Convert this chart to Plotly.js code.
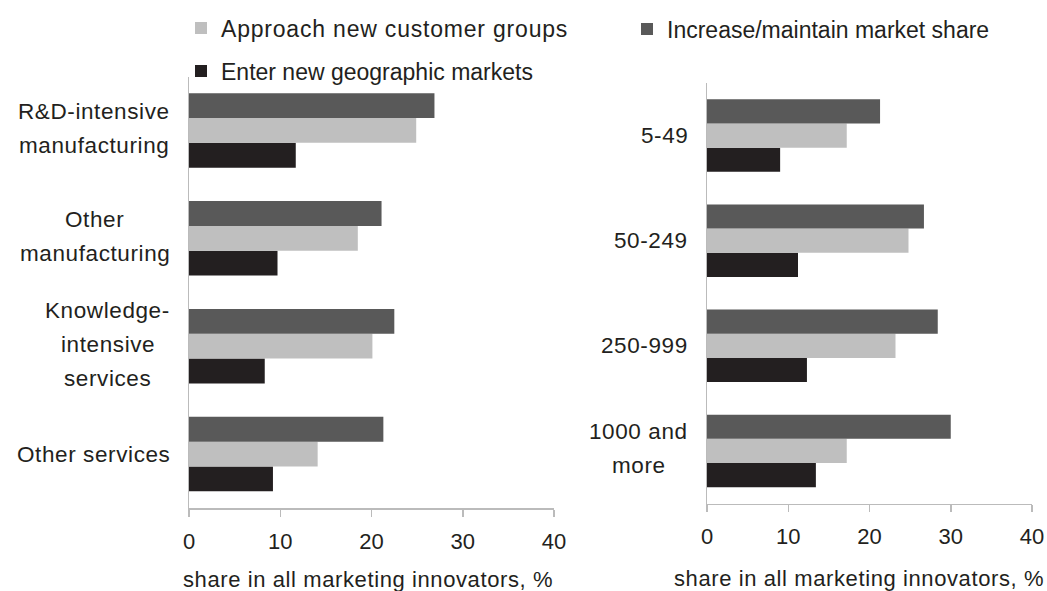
<!DOCTYPE html>
<html>
<head>
<meta charset="utf-8">
<script src="https://cdn.plot.ly/plotly-3.0.1.min.js"></script>
<style>
html,body{margin:0;padding:0;background:#fff;}
#chart{width:1047px;height:591px;}
text.annotation-text { letter-spacing: 0.6px; }
text.legendtext { letter-spacing: 0.8px; }
</style>
</head>
<body>
<div id="chart"></div>
<script>
// ---- data ----
const sectors = ['R&D-intensive<br>manufacturing', 'Other<br>manufacturing', 'Knowledge-<br>intensive<br>services', 'Other services'];
const sizes = ['5-49', '50-249', '250-999', '1000 and<br>more'];

const seriesNames = ['Enter new geographic markets', 'Approach new customer groups', 'Increase/maintain market share'];

const enterSector = [11.7, 9.7, 8.3, 9.2];
const approachSector = [24.9, 18.5, 20.1, 14.1];
const increaseSector = [26.9, 21.1, 22.5, 21.3];

const enterSize = [9.0, 11.2, 12.3, 13.4];
const approachSize = [17.2, 24.8, 23.2, 17.2];
const increaseSize = [21.3, 26.7, 28.4, 30.0];

const xTickVals = [0, 10, 20, 30, 40];
const xTitle = 'share in all marketing innovators, %';

// ---- style ----
const W = 1047, H = 591;
const FONT = '"Liberation Sans", Arial, sans-serif';
const TXT = '#231f20';
const LS = 0.6; // annotation letter spacing px (matches CSS)
const LABEL_SIZE = 22.5;
const colors = ['#231f20', '#bfbfbf', '#595959'];
const legendIds = ['legend2', 'legend', 'legend3'];
const px = v => v / W;
const py = v => (H - v) / H;

const leftVals = [enterSector, approachSector, increaseSector];
const rightVals = [enterSize, approachSize, increaseSize];

const traces = [];
seriesNames.forEach((name, i) => {
  traces.push({
    type: 'bar', orientation: 'h', name: name,
    y: sectors, x: leftVals[i], xaxis: 'x', yaxis: 'y',
    marker: {color: colors[i], line: {width: 0}},
    legend: legendIds[i], showlegend: true, hoverinfo: 'skip'
  });
  traces.push({
    type: 'bar', orientation: 'h', name: name,
    y: sizes, x: rightVals[i], xaxis: 'x2', yaxis: 'y2',
    marker: {color: colors[i], line: {width: 0}},
    showlegend: false, hoverinfo: 'skip'
  });
});

const axisLine = '#bbbbbb';
const xaxisBase = {
  range: [0, 40], tickvals: xTickVals, ticks: 'outside', ticklen: 7, tickwidth: 1.5,
  tickcolor: axisLine, showline: true, linecolor: axisLine, linewidth: 1.5,
  showgrid: false, zeroline: false, fixedrange: true, ticklabelstandoff: 6,
  tickfont: {family: FONT, size: 22, color: TXT}
};
const yaxisBase = {
  type: 'category', showline: true, linecolor: axisLine, linewidth: 1.5,
  ticks: '', showticklabels: false, showgrid: false, zeroline: false, fixedrange: true
};

// text width measurement for centring multi-line labels
const cv = document.createElement('canvas').getContext('2d');
cv.font = LABEL_SIZE + 'px "Liberation Sans", Arial, sans-serif';
function textW(s) { return cv.measureText(s).width + s.length * LS; }

const annotations = [];
function catLabels(cats, yref, xRight) {
  cats.forEach(c => {
    const lines = c.split('<br>');
    const n = lines.length;
    const maxW = Math.max(...lines.map(textW));
    const cx = xRight - maxW / 2;
    lines.forEach((ln, i) => {
      annotations.push({
        xref: 'paper', yref: yref, x: px(cx), y: c, xanchor: 'center', yanchor: 'middle',
        text: ln, showarrow: false, align: 'center',
        yshift: ((n - 1) / 2 - i) * 34 + (n > 1 ? 2 : 0),
        font: {family: FONT, size: LABEL_SIZE, color: TXT}
      });
    });
  });
}
catLabels(sectors, 'y', 170);
catLabels(sizes, 'y2', 688);

annotations.push({xref: 'paper', yref: 'paper', x: px(368), y: py(579), xanchor: 'center', yanchor: 'middle',
  text: xTitle, showarrow: false, font: {family: FONT, size: 22, color: TXT}});
annotations.push({xref: 'paper', yref: 'paper', x: px(1046), y: py(578), xanchor: 'right', yanchor: 'middle',
  text: xTitle, showarrow: false, font: {family: FONT, size: 22, color: TXT}});

const legFont = {family: FONT, size: 23, color: TXT};
const layout = {
  width: W, height: H,
  margin: {l: 0, r: 0, t: 0, b: 0},
  paper_bgcolor: '#ffffff', plot_bgcolor: '#ffffff',
  font: {family: FONT, size: 22, color: TXT},
  barmode: 'group', bargap: 0.31, bargroupgap: 0,
  xaxis: Object.assign({}, xaxisBase, {domain: [px(189), px(554)], anchor: 'y'}),
  yaxis: Object.assign({}, yaxisBase, {domain: [py(508), py(76.5)], anchor: 'x',
    categoryorder: 'array', categoryarray: sectors.slice().reverse()}),
  xaxis2: Object.assign({}, xaxisBase, {domain: [px(707), px(1032)], anchor: 'y2'}),
  yaxis2: Object.assign({}, yaxisBase, {domain: [py(503.5), py(83)], anchor: 'x2',
    categoryorder: 'array', categoryarray: sizes.slice().reverse()}),
  legend: {x: px(181), y: py(28), xanchor: 'left', yanchor: 'middle', font: legFont, bgcolor: 'rgba(0,0,0,0)', itemwidth: 30},
  legend2: {x: px(181), y: py(71), xanchor: 'left', yanchor: 'middle', font: legFont, bgcolor: 'rgba(0,0,0,0)', itemwidth: 30},
  legend3: {x: px(627), y: py(29), xanchor: 'left', yanchor: 'middle', font: legFont, bgcolor: 'rgba(0,0,0,0)', itemwidth: 30},
  annotations: annotations
};

Plotly.newPlot('chart', traces, layout, {staticPlot: true, displayModeBar: false});
</script>
</body>
</html>
